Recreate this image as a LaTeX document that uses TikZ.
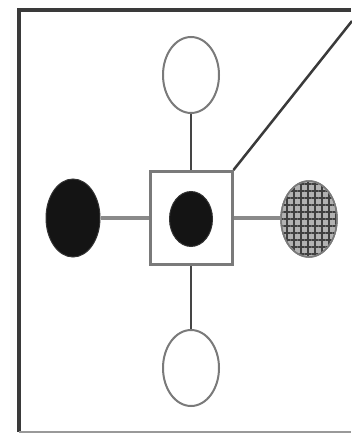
\documentclass[tikz,border=0pt]{standalone}
\usetikzlibrary{shapes.geometric,patterns.meta}
\definecolor{framec}{HTML}{3A3A3A}
\definecolor{outc}{HTML}{7A7A7A}
\definecolor{linec}{HTML}{454545}
\definecolor{hlinec}{HTML}{8A8A8A}
\tikzset{
  openell/.style={ellipse, draw=outc, line width=2pt, fill=white, minimum width=56pt, minimum height=76pt, inner sep=0pt},
  blackell/.style={ellipse, draw=black!80, line width=1pt, fill=black!92, minimum width=54pt, minimum height=78pt, inner sep=0pt},
  hatchell/.style={ellipse, draw=outc, line width=1.5pt, fill=gray!60, minimum width=56pt, minimum height=76pt, inner sep=0pt},
  centerbox/.style={rectangle, draw=outc, line width=3pt, fill=white, minimum width=82pt, minimum height=93pt, inner sep=0pt},
  vconn/.style={draw=linec, line width=2.2pt},
  hconn/.style={draw=hlinec, line width=4pt},
}
\begin{document}
\begin{tikzpicture}[x=1pt,y=-1pt]
\useasboundingbox (0,0) rectangle (351,436);
\fill[white] (0,0) rectangle (351,436);
% frame
\draw[framec, line width=3.2pt] (351,10) -- (19,10) -- (19,432);
\draw[gray!80, line width=2.5pt] (19,432) -- (351,432);
% nodes
\node[centerbox] (box) at (191,218) {};
\node[openell] (top) at (191,75) {};
\node[openell] (bottom) at (191,368) {};
\node[blackell] (left) at (73,218) {};
\node[hatchell] (right) at (309,219) {};
\node[blackell, minimum width=43pt, minimum height=55pt] (inner) at (191,219) {};
\path[pattern={Lines[angle=0,distance=7pt,line width=2pt]}, pattern color=black!75]
  (309,219) ellipse [x radius=27pt, y radius=37pt];
\path[pattern={Lines[angle=90,distance=7pt,line width=2pt]}, pattern color=black!75]
  (309,219) ellipse [x radius=27pt, y radius=37pt];
\draw[outc, line width=1.5pt] (309,219) ellipse [x radius=28pt, y radius=38pt];
\coordinate (corner) at (352,21);
% connectors
\draw[vconn] (top.south) -- (box.north);
\draw[vconn] (box.south) -- (bottom.north);
\draw[hconn] (left.east) -- (box.west);
\draw[hconn] (box.east) -- (box.east -| right.west);
\draw[framec, line width=2.5pt] (box.north east) -- (corner);
\end{tikzpicture}
\end{document}
